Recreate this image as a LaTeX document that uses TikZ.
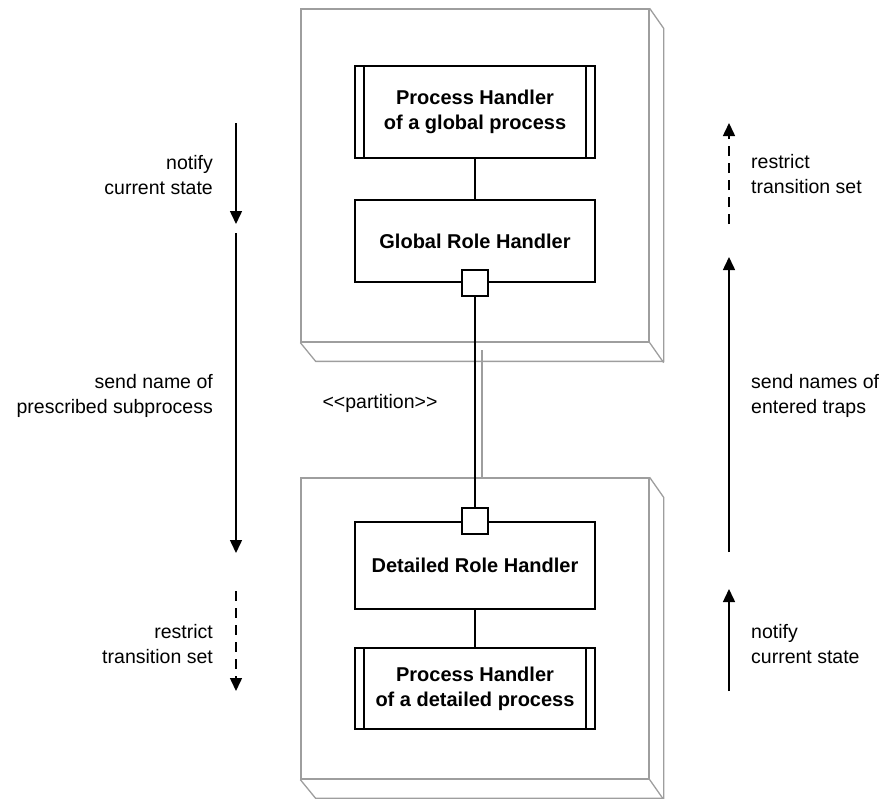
\documentclass[tikz,border=0pt]{standalone}
\usepackage{fontspec}
\setmainfont{Liberation Sans}
\usetikzlibrary{arrows.meta}

\tikzset{
  pkgline/.style={draw=black!38, line width=1.3pt},
  pkgface/.style={pkgline, rectangle, inner sep=0pt},
  unit/.style={draw, line width=1.6pt, rectangle, inner sep=0pt, fill=white,
    minimum width=240pt, align=center, font=\fontsize{20}{25}\selectfont\bfseries},
  port/.style={draw, line width=1.6pt, fill=white, minimum size=26pt, inner sep=0pt},
  link/.style={line width=1.6pt},
  flow/.style={line width=1.5pt, -{Triangle[length=13pt,width=12pt]}},
  flowdash/.style={flow, dash pattern=on 10pt off 7pt},
  note/.style={font=\fontsize{19.5}{25}\selectfont, inner sep=0pt}
}

\begin{document}
\begin{tikzpicture}[x=1pt,y=-1pt]
\useasboundingbox (0,0) rectangle (885,798);

% package outlines with their depth edges
\node[pkgface, minimum width=348pt, minimum height=333pt] (gpkg) at (475,175.5) {};
\draw[pkgline] (gpkg.north east) -- ++(14,20) -- ++(0,333) -- ++(-348,0) -- (gpkg.south west);
\draw[pkgline] (gpkg.south east) -- ++(14,20);

\node[pkgface, minimum width=348pt, minimum height=301pt] (dpkg) at (475,628.5) {};
\draw[pkgline] (dpkg.north east) -- ++(14,20) -- ++(0,301) -- ++(-348,0) -- (dpkg.south west);
\draw[pkgline] (dpkg.south east) -- ++(14,20);

\coordinate (ptop) at (482,350);
\coordinate (pbot) at (482,477);
\draw[pkgline, line width=1.1pt] (ptop) -- (pbot);

% handlers
\node[unit, minimum height=92pt] (pg) at (475,112) {Process Handler\\of a global process};
\draw[line width=1.6pt] ([xshift=10pt]pg.north west) -- ([xshift=10pt]pg.south west)
  ([xshift=-10pt]pg.north east) -- ([xshift=-10pt]pg.south east);
\node[unit, minimum height=82pt] (gr) at (475,241) {Global Role Handler};

\node[unit, minimum height=87pt] (dr) at (475,565.5) {Detailed Role Handler};
\node[unit, minimum height=81pt] (pd) at (475,688.5) {Process Handler\\of a detailed process};
\draw[line width=1.6pt] ([xshift=10pt]pd.north west) -- ([xshift=10pt]pd.south west)
  ([xshift=-10pt]pd.north east) -- ([xshift=-10pt]pd.south east);

\draw[link] (pg.south) -- (gr.north);
\draw[link] (dr.south) -- (pd.north);

\node[port] (gport) at (gr.south) {};
\node[port] (dport) at (dr.north) {};
\draw[link] (gport.south) -- (dport.north);

\node[note] (part) at (380,403) {<\kern0pt<partition>\kern0pt>};

% left flows
\coordinate (l1a) at (236,123); \coordinate (l1b) at (236,224);
\coordinate (l2a) at (236,233); \coordinate (l2b) at (236,553);
\coordinate (l3a) at (236,591); \coordinate (l3b) at (236,691);
\draw[flow] (l1a) -- (l1b);
\draw[flow] (l2a) -- (l2b);
\draw[flowdash] (l3a) -- (l3b);
\node[note, anchor=east, align=right] (t1) at (213,175) {notify\\current state};
\node[note, anchor=east, align=right] (t2) at (213,396) {send name of\\prescribed subprocess};
\node[note, anchor=east, align=right] (t3) at (213,644) {restrict\\transition set};

% right flows
\coordinate (r1a) at (729,224); \coordinate (r1b) at (729,123);
\coordinate (r2a) at (729,552); \coordinate (r2b) at (729,257);
\coordinate (r3a) at (729,691); \coordinate (r3b) at (729,589);
\draw[flowdash] (r1a) -- (r1b);
\draw[flow] (r2a) -- (r2b);
\draw[flow] (r3a) -- (r3b);
\node[note, anchor=west, align=left] (u1) at (751,174) {restrict\\transition set};
\node[note, anchor=west, align=left] (u2) at (751,396) {send names of\\entered traps};
\node[note, anchor=west, align=left] (u3) at (751,644) {notify\\current state};
\end{tikzpicture}
\end{document}
